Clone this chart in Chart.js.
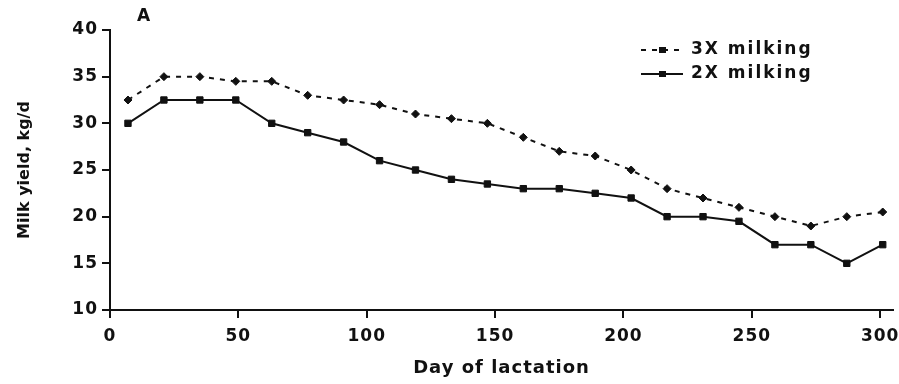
<!DOCTYPE html>
<html>
<head>
<meta charset="utf-8">
<script src="https://cdn.jsdelivr.net/npm/chart.js@4/dist/chart.umd.min.js"></script>
<style>
  html, body { margin: 0; padding: 0; background: #fff; }
</style>
</head>
<body>
<canvas id="milkChart" width="899" height="384"></canvas>
<script>
// data (day of lactation, kg/d)
const days = [7, 21, 35, 49, 63, 77, 91, 105, 119, 133, 147, 161, 175, 189, 203, 217, 231, 245, 259, 273, 287, 301];
const milk3x = [32.5, 35, 35, 34.5, 34.5, 33, 32.5, 32, 31, 30.5, 30, 28.5, 27, 26.5, 25, 23, 22, 21, 20, 19, 20, 20.5];
const milk2x = [30, 32.5, 32.5, 32.5, 30, 29, 28, 26, 25, 24, 23.5, 23, 23, 22.5, 22, 20, 20, 19.5, 17, 17, 15, 17];
const seriesNames = ['3X milking', '2X milking'];

const ink = '#111';
const fontFamily = '"DejaVu Sans", "Liberation Sans", Arial, sans-serif';
// the original figure has wide lettering, so space the letters out a little
const wideText = '1px';

function toPoints(values) {
    return days.map((d, i) => ({ x: d, y: values[i] }));
}

// legend, y title and panel letter drawn by hand (legend sits inside the plot)
const extraText = {
    id: 'extraText',
    beforeUpdate(chart) {
        chart.ctx.letterSpacing = wideText;
    },
    beforeDraw(chart) {
        chart.ctx.letterSpacing = wideText;
    },
    afterDraw(chart) {
        const ctx = chart.ctx;
        const area = chart.chartArea;
        const x0 = area.right - 252;
        ctx.save();
        ctx.letterSpacing = '2px';
        ctx.font = 'bold 17px ' + fontFamily;
        ctx.textBaseline = 'middle';
        chart.data.datasets.forEach((ds, i) => {
            const y = area.top + 20 + i * 24;
            ctx.strokeStyle = ds.borderColor;
            ctx.lineWidth = ds.borderWidth;
            ctx.setLineDash(ds.borderDash || []);
            ctx.beginPath();
            ctx.moveTo(x0, y);
            ctx.lineTo(x0 + 42, y);
            ctx.stroke();
            ctx.setLineDash([]);
            ctx.fillStyle = ink;
            ctx.fillRect(x0 + 18, y - 3, 7, 6);
            ctx.fillText(ds.label, x0 + 50, y);
        });
        ctx.font = 'bold 17px ' + fontFamily;
        ctx.fillText('A', 137, 17);

        // y axis title, rotated
        ctx.letterSpacing = '0px';
        ctx.font = 'bold 16px ' + fontFamily;
        ctx.textAlign = 'center';
        ctx.translate(25, (area.top + area.bottom) / 2);
        ctx.rotate(-Math.PI / 2);
        ctx.fillText('Milk yield, kg/d', 0, 0);
        ctx.restore();
    }
};

const chart = new Chart(document.getElementById('milkChart'), {
    type: 'line',
    data: {
        datasets: [{
            label: seriesNames[0],
            data: toPoints(milk3x),
            borderColor: ink,
            borderWidth: 2,
            borderDash: [5, 6],
            pointStyle: 'rectRot',
            pointRadius: 4,
            pointBackgroundColor: ink,
            pointBorderColor: ink,
            pointBorderWidth: 1
        }, {
            label: seriesNames[1],
            data: toPoints(milk2x),
            borderColor: ink,
            borderWidth: 2,
            pointStyle: 'rect',
            pointRadius: 4.5,
            pointBackgroundColor: ink,
            pointBorderColor: ink,
            pointBorderWidth: 1
        }]
    },
    options: {
        responsive: false,
        animation: false,
        layout: {
            padding: { top: 30, right: 6, left: 0, bottom: 0 }
        },
        plugins: {
            legend: { display: false },
            tooltip: { enabled: false }
        },
        scales: {
            x: {
                type: 'linear',
                min: 0,
                max: 305,
                afterFit: (scale) => {
                    scale.height = 74;
                    // don't let the "300" label squeeze the plot
                    scale.paddingLeft = 0;
                    scale.paddingRight = 0;
                },
                border: { display: true, color: ink, width: 2 },
                grid: { drawOnChartArea: false, drawTicks: true, tickLength: 8, tickColor: ink, lineWidth: 2 },
                ticks: {
                    stepSize: 50,
                    includeBounds: false,
                    color: ink,
                    padding: 8,
                    maxRotation: 0,
                    font: { family: fontFamily, size: 17, weight: 'bold' }
                },
                title: {
                    display: true,
                    text: 'Day of lactation',
                    color: ink,
                    padding: { top: 0, bottom: 5 },
                    font: { family: fontFamily, size: 18, weight: 'bold' }
                }
            },
            y: {
                min: 10,
                max: 40,
                afterFit: (scale) => { scale.width = 110; },
                border: { display: true, color: ink, width: 2 },
                grid: { drawOnChartArea: false, drawTicks: true, tickLength: 8, tickColor: ink, lineWidth: 2 },
                ticks: {
                    stepSize: 5,
                    color: ink,
                    padding: 4,
                    font: { family: fontFamily, size: 17, weight: 'bold' }
                }
            }
        }
    },
    plugins: [extraText]
});
</script>
</body>
</html>
